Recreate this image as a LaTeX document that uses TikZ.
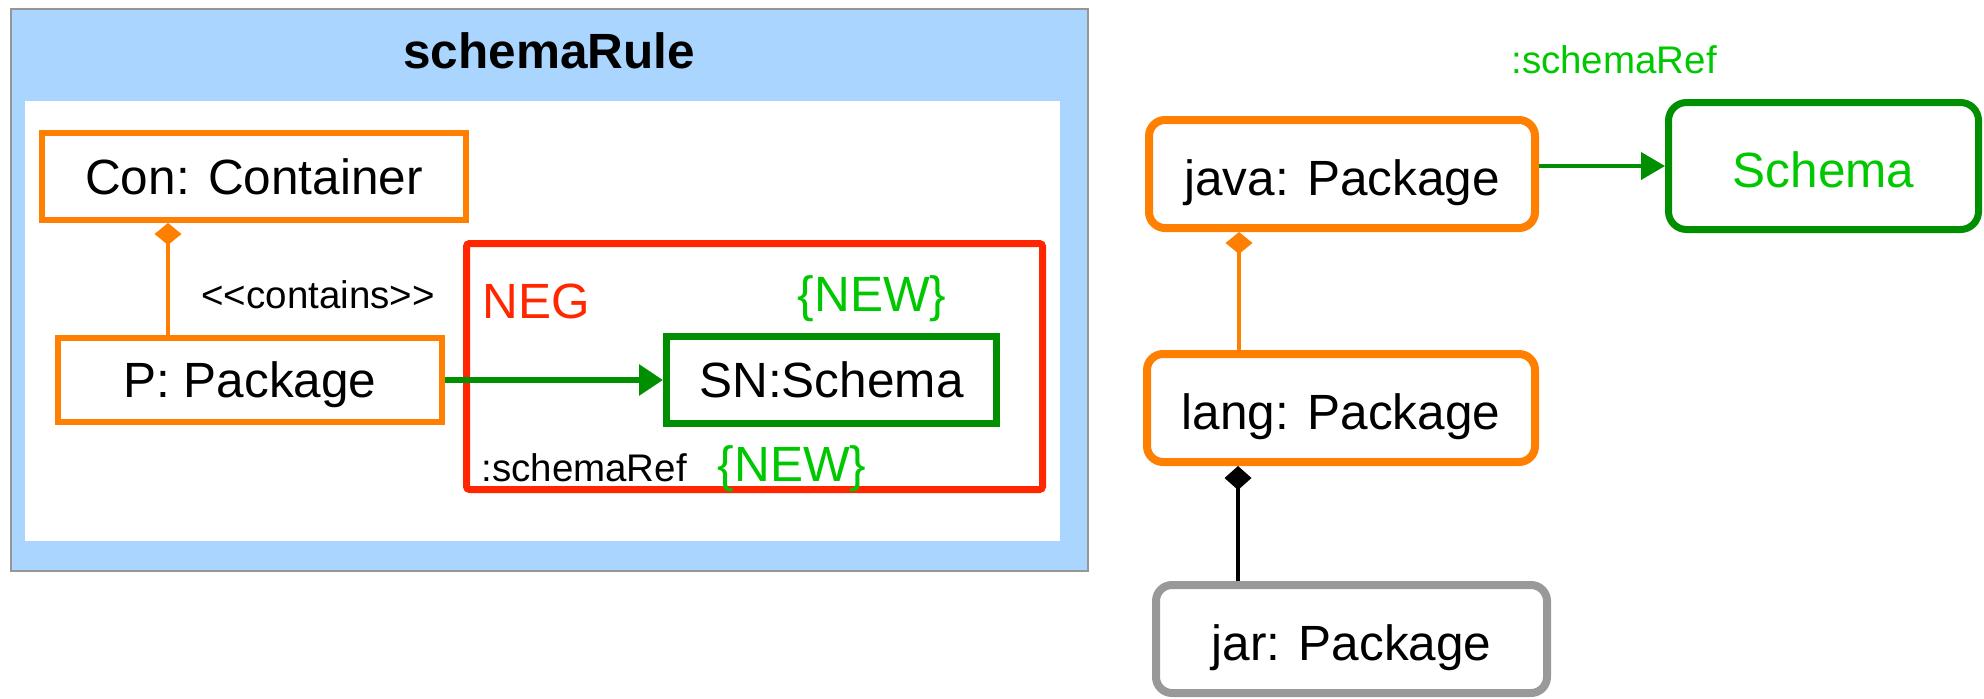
\documentclass[tikz,border=0pt]{standalone}
\usepackage{fontspec}
\setmainfont{Liberation Sans}
\usetikzlibrary{arrows.meta}
\definecolor{rulebg}{RGB}{170,213,255}
\definecolor{framegray}{RGB}{150,150,150}
\definecolor{pkgorange}{RGB}{255,128,0}
\definecolor{negred}{RGB}{255,38,0}
\definecolor{refgreen}{RGB}{0,143,0}
\definecolor{newgreen}{RGB}{0,200,0}
\definecolor{jargray}{RGB}{153,153,153}
\newcommand{\BIGTXT}{\fontsize{24.75pt}{29pt}\selectfont}
\newcommand{\MIDTXT}{\fontsize{19.25pt}{23pt}\selectfont}
\tikzset{
  objbox/.style={
    rectangle,fill=white,font=\BIGTXT,text height=17.7pt,text depth=0pt,inner sep=0pt,
  },
  pkgbox/.style={objbox,draw=pkgorange,line width=3pt},
  roundbox/.style={objbox,rounded corners=8pt,line width=4pt,text height=21.7pt},
  tag/.style={inner sep=0pt},
  refarrow/.style={-{Triangle[length=12pt,width=15pt]},draw=refgreen,line width=3pt},
  ownsline/.style={-{Diamond[length=11pt,width=13.5pt]},line width=2.25pt},
}
\begin{document}
\begin{tikzpicture}[x=0.5pt,y=-0.5pt]
    \useasboundingbox (0,0) rectangle (1984,698);
    \draw[draw=framegray,fill=rulebg,line width=1.25pt] (11,9) rectangle (1088,571);
    \fill[white] (25,101) rectangle (1060,541);
    \node[tag,anchor=base,font=\BIGTXT\bfseries] (title) at (549,68) {schemaRule};

    \node[pkgbox,minimum width=212pt,minimum height=43.5pt] (con) at (254,176.5) {Con: Container};
    \node[pkgbox,minimum width=192pt,minimum height=42pt] (p) at (250,380) {P: Package};
    \node[tag,anchor=base west,font=\MIDTXT] (contains) at (201,308) {{<}{<}contains{>}{>}};

    \node[draw=negred,line width=3.5pt,rounded corners=1.5pt,minimum width=288pt,minimum height=123pt,inner sep=0pt] (neg) at (754.5,366.5) {};
    \node[tag,anchor=base west,font=\BIGTXT,text=negred] (neglabel) at (482,318) {NEG};
    \node[tag,anchor=base,font=\BIGTXT,text=newgreen] (newtop) at (872,311) {\{NEW\}};
    \node[objbox,draw=refgreen,line width=3.5pt,minimum width=165pt,minimum height=43.5pt] (sn) at (831.5,380) {SN:Schema};
    \node[tag,anchor=base west,font=\MIDTXT] (refname) at (481,481) {:schemaRef};
    \node[tag,anchor=base,font=\BIGTXT,text=newgreen] (newbottom) at (792,481) {\{NEW\}};

    \draw[refarrow] (p.east) -- (sn.west);
    \coordinate (conhook) at ([xshift=-43pt]con.south);
    \draw[ownsline,pkgorange] (conhook |- p.north) -- (conhook);

    \node[roundbox,draw=pkgorange,minimum width=193pt,minimum height=54pt] (java) at (1342,174) {java: Package};
    \node[roundbox,draw=refgreen,line width=3.5pt,rounded corners=9pt,minimum width=155pt,minimum height=63.5pt,text=newgreen] (schema) at (1823.5,166) {Schema};
    \node[roundbox,draw=pkgorange,minimum width=194pt,minimum height=54pt] (lang) at (1341,408) {lang: Package};
    \node[roundbox,draw=jargray,minimum width=195.5pt,minimum height=54pt] (jar) at (1351.5,639) {jar: Package};
    \node[tag,anchor=base,font=\MIDTXT,text=newgreen] (javaref) at (1614,73) {:schemaRef};

    \draw[refarrow,line width=2pt,-{Triangle[length=12pt,width=13.5pt]}] (java.east |- schema.west) -- (schema.west);
    \coordinate (javahook) at ([xshift=-51.5pt]java.south);
    \draw[ownsline,pkgorange] (javahook |- lang.north) -- (javahook);
    \coordinate (langhook) at ([xshift=-51.5pt]lang.south);
    \draw[ownsline,black,line width=2pt,-{Diamond[length=12pt,width=13.5pt]}] (langhook |- jar.north) -- (langhook);
\end{tikzpicture}
\end{document}
